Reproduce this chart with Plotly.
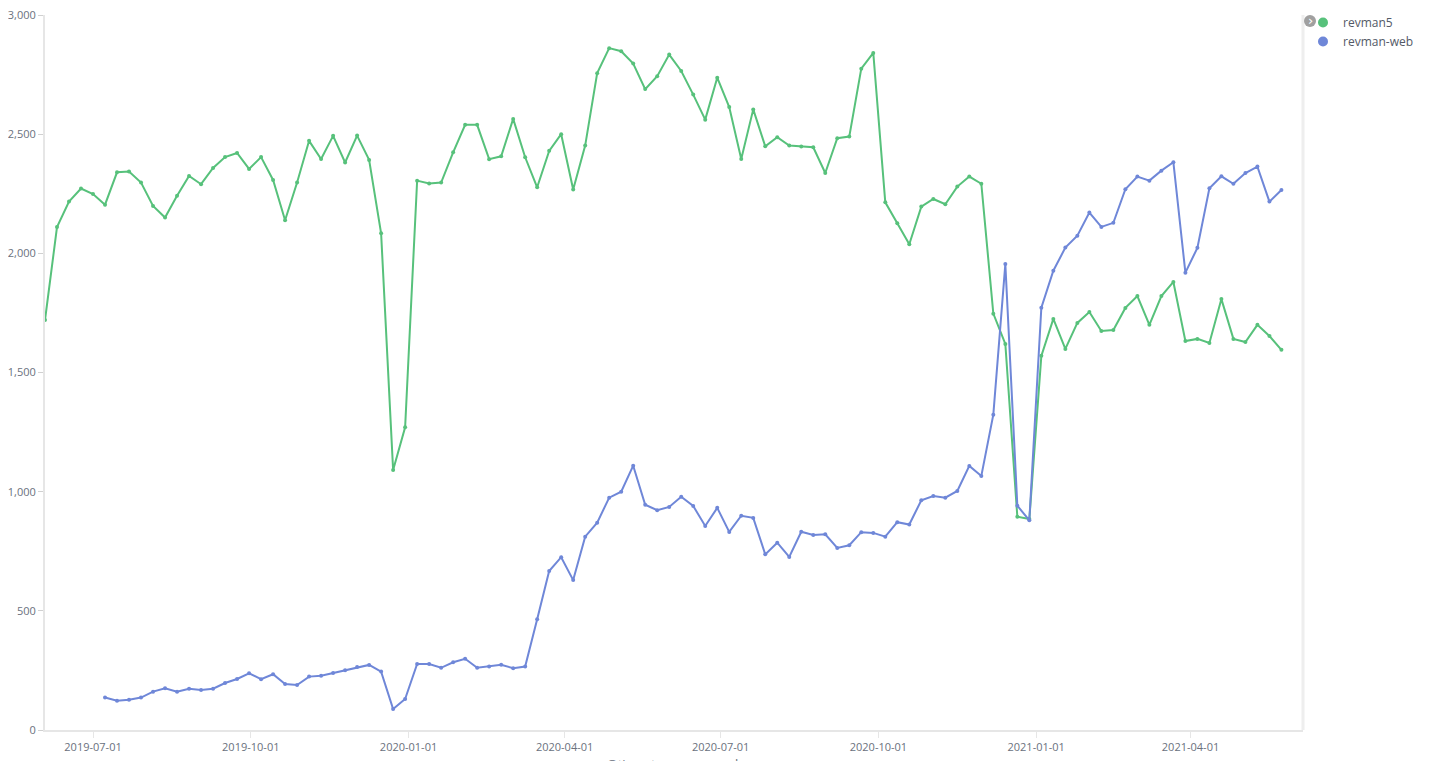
import plotly.graph_objects as go
import pandas as pd

start_week = "2019-06-03"
n_weeks = 104

revman5 = [1720, 2110, 2217, 2272, 2249, 2204, 2340, 2343, 2297, 2199,
           2150, 2242, 2325, 2290, 2358, 2404, 2421, 2354, 2404, 2308,
           2139, 2297, 2472, 2396, 2493, 2381, 2494, 2392, 2084, 1091,
           1270, 2305, 2293, 2297, 2424, 2539, 2539, 2395, 2407, 2564,
           2403, 2277, 2430, 2500, 2268, 2452, 2756, 2861, 2848, 2796,
           2689, 2743, 2834, 2765, 2666, 2561, 2737, 2614, 2396, 2604,
           2449, 2487, 2452, 2448, 2445, 2337, 2483, 2490, 2775, 2841,
           2214, 2126, 2038, 2196, 2228, 2206, 2280, 2322, 2292, 1747,
           1620, 895, 885, 1570, 1725, 1599, 1708, 1754, 1674, 1678,
           1771, 1821, 1700, 1821, 1880, 1632, 1641, 1624, 1808, 1641,
           1628, 1700, 1653, 1595]

revman_web = [None, None, None, None, None,
              136, 123, 127, 136, 161, 175, 161, 173, 168, 173,
              197, 214, 238, 213, 234, 193, 189, 224, 228, 239,
              251, 264, 273, 245, 88, 130, 277, 277, 261, 284,
              299, 261, 266, 274, 259, 266, 465, 667, 725, 629,
              811, 870, 975, 1000, 1109, 945, 922, 936, 979, 940,
              856, 932, 831, 899, 890, 737, 786, 726, 832, 818,
              821, 764, 775, 830, 827, 811, 872, 862, 964, 982,
              975, 1003, 1108, 1066, 1323, 1955, 941, 880, 1772, 1927,
              2024, 2074, 2171, 2111, 2128, 2269, 2322, 2305, 2347, 2382,
              1919, 2023, 2273, 2323, 2292, 2337, 2364, 2217, 2266]

y_ticks = [0, 500, 1000, 1500, 2000, 2500, 3000]
x_ticks = ["2019-07-01", "2019-10-01", "2020-01-01", "2020-04-01",
           "2020-07-01", "2020-10-01", "2021-01-01", "2021-04-01"]

weeks = pd.date_range(start_week, periods=n_weeks, freq="7D")

GREEN = "#57c17b"
BLUE = "#6f87d8"
TICK_FONT = dict(family="Open Sans, DejaVu Sans, sans-serif", size=11, color="#6a717d")

fig = go.Figure()
for name, vals, col in [("revman5", revman5, GREEN), ("revman-web", revman_web, BLUE)]:
    fig.add_trace(go.Scatter(
        x=weeks, y=vals, mode="lines+markers", name=name,
        line=dict(color=col, width=2), marker=dict(color=col, size=4),
        showlegend=False, connectgaps=False))
    fig.add_trace(go.Scatter(
        x=[None], y=[None], mode="markers", name=name,
        marker=dict(color=col, size=10), showlegend=True))

# page body has an 8px margin; figure sized to fit the 1435x761 window
W, H = 1427, 753
fig.update_layout(
    width=W, height=H,
    margin=dict(l=37, r=132, t=7, b=31, autoexpand=False),
    plot_bgcolor="white", paper_bgcolor="white",
    font=dict(family="Open Sans, DejaVu Sans, sans-serif"),
    legend=dict(xref="container", yref="container", x=(1303 - 8) / W, y=1 + 6 / H,
                xanchor="left", yanchor="top", itemwidth=30,
                font=dict(size=12, color="#535966"), tracegroupgap=0,
                bgcolor="rgba(0,0,0,0)"),
    xaxis=dict(type="date", range=["2019-06-03", "2021-06-05 14:00"], automargin=False,
               tickvals=x_ticks, ticktext=x_ticks, tickfont=TICK_FONT,
               ticklabeloverflow="allow",
               showgrid=False, zeroline=False, showline=True, linecolor="#e6e6e6",
               linewidth=2, ticks="outside", ticklen=6, tickcolor="#e6e6e6"),
    yaxis=dict(range=[0, 3000], tickvals=y_ticks, tickformat=",", tickfont=TICK_FONT,
               automargin=False, ticklabeloverflow="allow",
               showgrid=False, zeroline=False, showline=True, linecolor="#e6e6e6",
               linewidth=2, ticks="outside", ticklen=5, tickcolor="#d0d0d0"),
)

# x-axis title, mostly cut off at the bottom as in the original
fig.add_annotation(text="@timestamp per week", xref="paper", yref="paper",
                   x=0.5, y=0, yshift=-23, yanchor="top", showarrow=False,
                   font=dict(size=13, color="#6a717d"))

# legend panel separator and collapse icon
fig.add_shape(type="line", xref="paper", yref="paper", x0=1.0, x1=1.0, y0=0, y1=1,
              line=dict(color="#eeeeee", width=3))
fig.add_shape(type="circle", xref="paper", yref="paper",
              x0=(1304 - 45) / 1258, x1=(1316 - 45) / 1258,
              y0=(730 - 27) / 715, y1=(730 - 15) / 715,
              fillcolor="#a0a0a0", line=dict(width=0))
fig.add_annotation(text="›", xref="paper", yref="paper",
                   x=(1310 - 45) / 1258, y=(730 - 21) / 715, showarrow=False,
                   font=dict(size=13, color="white", family="DejaVu Sans"),
                   xanchor="center", yanchor="middle")

fig.write_html("out.html")
